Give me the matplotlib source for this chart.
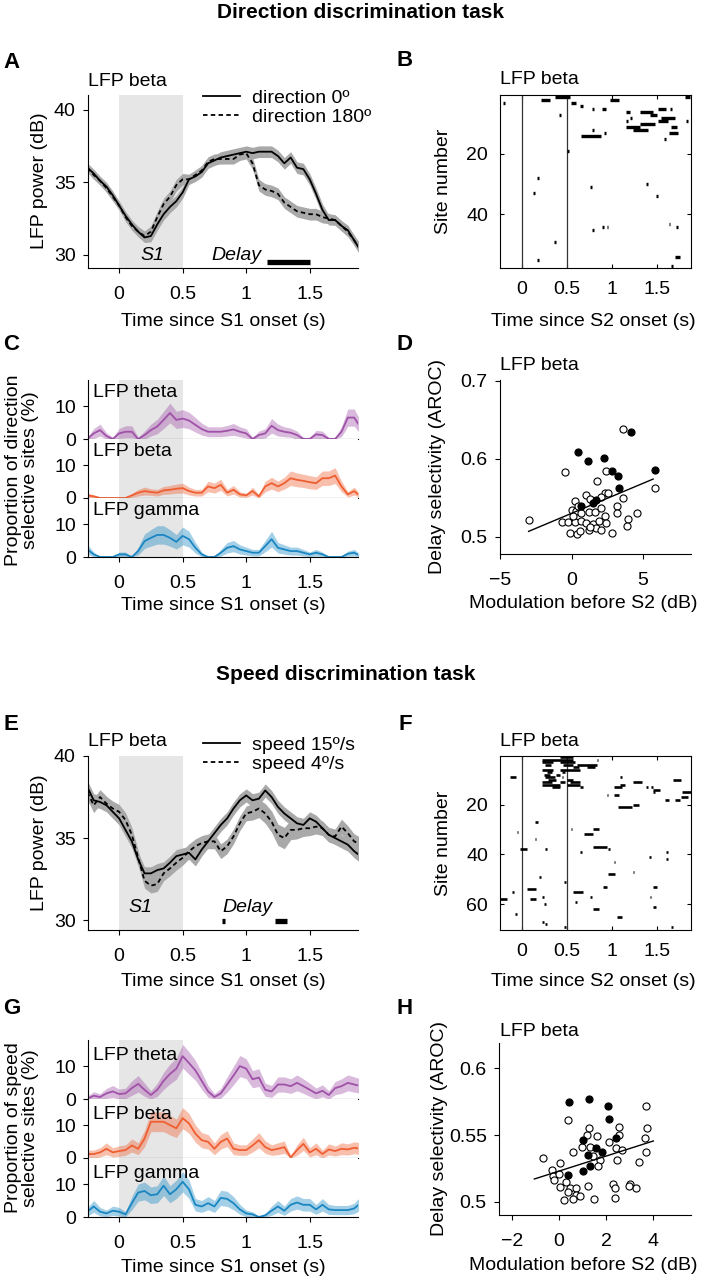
import numpy as np
import matplotlib.pyplot as plt

W, H = 701, 1280
plt.rcParams['font.family'] = ['Liberation Sans', 'DejaVu Sans']
plt.rcParams['font.size'] = 14
plt.rcParams['axes.linewidth'] = 0.8

# time grid (s) of the power / proportion traces
t = np.round(np.arange(-0.25, 1.9001, 0.05), 2)

# ---------------- A: LFP beta power, direction task
dir0_pow = [36.0, 35.6, 35.1, 34.7, 34.1, 33.4, 32.7, 32.1, 31.6, 31.2, 31.3, 32.1, 32.8, 33.3, 33.7,
            34.3, 35.2, 35.4, 35.7, 36.3, 36.5, 36.7, 36.8, 36.9, 37.0, 37.1, 37.0, 37.1, 37.1, 37.1,
            36.8, 36.3, 36.7, 36.0, 35.9, 35.2, 34.2, 33.1, 32.4, 32.4, 32.0, 31.7, 31.0, 30.3]
dir0_sem = [0.3, 0.3, 0.3, 0.3, 0.3, 0.3, 0.3, 0.3, 0.35, 0.35, 0.4, 0.4, 0.4, 0.4, 0.4,
            0.4, 0.35, 0.35, 0.35, 0.35, 0.35, 0.4, 0.4, 0.4, 0.4, 0.4, 0.4, 0.4, 0.4, 0.4,
            0.4, 0.4, 0.4, 0.4, 0.4, 0.4, 0.4, 0.4, 0.35, 0.35, 0.35, 0.35, 0.35, 0.35]
dir180_pow = [36.0, 35.5, 35.1, 34.6, 34.0, 33.4, 32.6, 32.0, 31.6, 31.3, 31.6, 32.6, 33.5, 34.0, 34.8,
              35.2, 35.2, 35.5, 35.8, 36.4, 36.6, 36.6, 36.6, 36.6, 36.9, 37.0, 36.3, 34.8, 34.5, 34.4,
              34.2, 33.6, 33.3, 33.0, 32.9, 32.8, 32.8, 32.6, 32.5, 32.4, 32.0, 31.6, 31.0, 30.4]
dir180_sem = [0.3, 0.3, 0.3, 0.3, 0.3, 0.3, 0.3, 0.3, 0.35, 0.35, 0.4, 0.4, 0.4, 0.4, 0.4,
              0.4, 0.35, 0.35, 0.35, 0.35, 0.35, 0.35, 0.35, 0.35, 0.4, 0.4, 0.4, 0.4, 0.4, 0.4,
              0.4, 0.4, 0.4, 0.4, 0.4, 0.4, 0.4, 0.4, 0.35, 0.35, 0.35, 0.35, 0.35, 0.35]
dir_delay_bars = [(1.16, 1.50)]

# ---------------- B: raster of direction-selective sites (site, start, end)
B_site = [3, 2, 1, 7, 3, 4, 5, 5, 2, 1, 19, 14, 12, 13, 6, 9, 8, 11, 12, 10, 6, 7, 5, 5, 9, 8,
          15, 11, 13, 9, 31, 28, 33, 30, 34, 45, 44, 44, 43, 44, 49, 55, 54, 57]
B_start = [-0.21, 0.21, 0.37, 0.41, 0.55, 0.64, 0.78, 0.89, 0.98, 1.81, 0.50, 0.66, 0.78, 0.91,
           1.16, 1.16, 1.20, 1.16, 1.24, 1.31, 1.31, 1.42, 1.51, 1.65, 1.51, 1.55, 1.58, 1.66,
           1.64, 1.82, 0.76, 0.17, 0.12, 1.38, 1.49, 0.78, 0.89, 0.94, 1.63, 1.71, 0.36, 0.17,
           1.70, 1.66]
B_end = [-0.19, 0.31, 0.53, 0.43, 0.60, 0.68, 0.80, 0.93, 1.08, 1.87, 0.52, 0.88, 0.80, 0.93,
         1.20, 1.18, 1.22, 1.31, 1.40, 1.48, 1.46, 1.50, 1.60, 1.67, 1.62, 1.70, 1.60, 1.72,
         1.74, 1.85, 0.78, 0.19, 0.14, 1.40, 1.51, 0.80, 0.91, 0.96, 1.65, 1.73, 0.38, 0.19,
         1.76, 1.68]

# ---------------- C: proportion of direction selective sites (%)
C_theta = [0, 1.7, 2.7, 0.9, 0, 1.7, 2.2, 2.2, 0, 1.2, 2.7, 3.8, 5.8, 7.9, 5.8,
           6.2, 5.6, 4.3, 3.0, 2.2, 2.2, 2.2, 2.5, 2.9, 2.2, 1.7, 0, 1.2, 1.7, 4.0,
           2.7, 2.2, 1.9, 1.2, 0, 0, 1.4, 1.2, 0, 0, 2.2, 6.5, 6.5, 3.5]
C_theta_err = [0.5, 1.5, 1.8, 1.0, 0.5, 1.5, 1.8, 1.8, 0.5, 1.2, 1.8, 2.2, 2.6, 3.0, 2.6,
               2.7, 2.5, 2.2, 1.8, 1.5, 1.5, 1.5, 1.6, 1.8, 1.5, 1.4, 0.5, 1.2, 1.4, 2.2,
               1.8, 1.5, 1.4, 1.2, 0.5, 0.5, 1.2, 1.2, 0.5, 0.5, 1.5, 2.6, 2.6, 2.0]
C_beta = [0.8, 0.5, 0, 0, 0, 0, 0, 0.8, 1.6, 2.1, 1.8, 1.6, 2.3, 2.5, 2.8,
          3.0, 2.1, 1.6, 1.6, 3.5, 3.0, 4.0, 1.6, 2.5, 1.1, 0.8, 2.1, 0.5, 3.5, 4.5,
          3.5, 4.5, 6.0, 5.5, 5.2, 4.8, 4.5, 6.0, 6.0, 6.8, 3.5, 1.1, 2.1, 0.5]
C_beta_err = [0.6, 0.5, 0, 0, 0, 0, 0, 0.6, 1.0, 1.2, 1.0, 1.0, 1.2, 1.3, 1.4,
              1.5, 1.2, 1.0, 1.0, 1.6, 1.5, 1.7, 1.0, 1.3, 0.8, 0.6, 1.2, 0.5, 1.6, 1.8,
              1.6, 1.8, 2.2, 2.1, 2.0, 2.0, 1.9, 2.2, 2.2, 2.4, 1.6, 0.8, 1.2, 0.5]
C_gamma = [2.3, 0.8, 0, 0, 0, 0.8, 0.8, 0, 1.8, 4.8, 5.8, 6.7, 6.7, 5.8, 4.6,
           6.4, 5.4, 2.8, 0.8, 0, 0, 1.3, 2.8, 3.3, 2.3, 1.8, 1.3, 1.3, 3.3, 5.4,
           2.8, 2.3, 1.8, 1.8, 1.3, 0.8, 1.3, 0.8, 0, 0, 0, 1.0, 1.3, 0.3]
C_gamma_err = [1.5, 0.7, 0, 0, 0, 0.7, 0.7, 0, 1.2, 2.2, 2.5, 2.8, 2.8, 2.5, 2.2,
               2.7, 2.4, 1.6, 0.7, 0, 0, 1.0, 1.6, 1.7, 1.4, 1.2, 1.0, 1.0, 1.7, 2.4,
               1.6, 1.4, 1.2, 1.2, 1.0, 0.7, 1.0, 0.7, 0, 0, 0, 0.8, 1.0, 0.4]

# ---------------- D: delay selectivity vs modulation, direction task
D_sel_x = [0.44, 1.14, 2.26, 2.82, 3.23, 3.30, 4.13, 5.8, 0.63, 1.5, 1.73]
D_sel_y = [0.609, 0.597, 0.601, 0.584, 0.578, 0.562, 0.634, 0.586, 0.540, 0.544, 0.547]
D_ns_x = [-2.98, -0.49, 3.6, 2.42, 1.75, 5.8, 3.59, 3.19, 3.19, 4.6, 3.97, 3.86, 2.82, 0.22,
          1.03, 1.26, 2.31, 2.55, 2.07, 0.0, 0.3, 0.63, 1.21, 1.61, 2.07, 2.31, -0.7, -0.23,
          0.22, 0.68, 1.03, 1.5, 1.91, 2.42, -0.12, 0.35, 0.58, 1.21, 1.73, 2.07, 1.26, 0.12, 0.45]
D_ns_y = [0.522, 0.583, 0.638, 0.585, 0.571, 0.563, 0.550, 0.539, 0.531, 0.531, 0.523, 0.514,
          0.505, 0.546, 0.553, 0.549, 0.556, 0.556, 0.551, 0.535, 0.533, 0.531, 0.532, 0.532,
          0.537, 0.527, 0.519, 0.519, 0.519, 0.520, 0.518, 0.516, 0.520, 0.518, 0.505, 0.503,
          0.508, 0.509, 0.511, 0.509, 0.513, 0.527, 0.539]
D_fit_x = [-3.0, 5.7]
D_fit_y = [0.507, 0.574]

# ---------------- E: LFP beta power, speed task
spd15_pow = [38.1, 37.3, 37.2, 37.0, 36.6, 36.2, 35.5, 34.8, 33.7, 32.85, 32.85, 33.05, 33.15, 33.5, 33.9,
             34.0, 34.1, 33.7, 34.3, 34.8, 35.3, 35.8, 36.2, 36.8, 37.3, 37.6, 37.3, 37.4, 37.9, 37.5,
             36.9, 36.5, 36.2, 35.9, 35.8, 36.2, 36.0, 35.6, 35.2, 35.0, 34.8, 34.6, 34.2, 33.9]
spd15_sem = [0.4, 0.4, 0.4, 0.4, 0.4, 0.4, 0.4, 0.4, 0.4, 0.4, 0.4, 0.4, 0.4, 0.4, 0.4,
             0.4, 0.4, 0.4, 0.4, 0.4, 0.4, 0.4, 0.4, 0.4, 0.4, 0.4, 0.4, 0.4, 0.4, 0.4,
             0.4, 0.4, 0.4, 0.4, 0.4, 0.4, 0.4, 0.4, 0.4, 0.4, 0.4, 0.4, 0.4, 0.4]
spd4_pow = [37.8, 37.0, 37.5, 37.1, 36.8, 36.6, 36.1, 35.2, 33.8, 32.4, 32.1, 32.2, 32.85, 33.15, 33.5,
            33.8, 34.2, 34.5, 34.7, 34.8, 34.8, 34.2, 34.5, 35.1, 35.9, 36.5, 36.6, 36.8, 36.5, 36.0,
            35.2, 35.0, 35.5, 35.5, 35.6, 35.6, 35.7, 35.6, 35.2, 35.1, 35.7, 35.3, 34.8, 34.6]
spd4_sem = [0.45, 0.45, 0.45, 0.45, 0.45, 0.45, 0.45, 0.45, 0.45, 0.45, 0.45, 0.45, 0.45, 0.45, 0.45,
            0.45, 0.45, 0.45, 0.45, 0.45, 0.45, 0.45, 0.45, 0.45, 0.45, 0.45, 0.5, 0.55, 0.6, 0.65,
            0.65, 0.65, 0.6, 0.55, 0.5, 0.45, 0.45, 0.45, 0.45, 0.45, 0.45, 0.45, 0.45, 0.45]
spd_delay_bars = [(0.81, 0.83), (1.23, 1.32)]

# ---------------- F: raster of speed-selective sites
F_site = [1, 2, 2, 3, 3, 4, 4, 4, 5, 5, 6, 6, 7, 7, 8, 8, 9, 9, 9, 10, 10, 11, 11, 11, 12, 12, 13, 13,
          16, 16, 9, 13, 12, 11, 13, 13, 14, 15, 10, 18, 17, 15, 18, 21, 20,
          31, 27, 34, 38, 38, 49, 30, 32, 30, 37, 38, 39, 43, 41, 39, 42, 47, 48, 51, 55, 54, 55,
          58, 58, 57, 60, 59, 57, 62, 53, 53, 57, 61, 64, 65, 67, 68, 69, 69]
F_start = [0.42, 0.22, 0.83, 0.22, 0.42, 0.26, 0.46, 0.61, 0.57, 0.72, 0.22, 0.42, 0.28, 0.44,
           0.24, 0.38, 0.26, 0.44, -0.13, 0.29, 0.50, 0.22, 0.42, 0.53, 0.22, 0.50, 0.33, 0.64,
           0.94, 1.02, 1.09, 1.02, 1.09, 1.24, 1.38, 1.44, 1.46, 1.46, 1.68, 1.70, 1.77, 1.78,
           1.59, 1.07, 1.24,
           -0.06, 0.14, 0.14, 0.26, -0.02, 0.19, 0.54, 0.69, 0.79, 0.79, 0.96, 0.65, 1.02, 1.41,
           1.60, 1.60, 1.23, 0.96, 0.47, 0.57, 0.05, -0.11, -0.24, 0.09, 0.22, 0.25, 0.59, 0.76,
           0.79, 0.90, 1.46, 1.42, 1.46, -0.08, 1.06, 0.22, 0.26, 0.47, 1.66]
F_end = [0.57, 0.57, 0.85, 0.35, 0.59, 0.32, 0.57, 0.83, 0.63, 0.81, 0.35, 0.64, 0.33, 0.48,
         0.31, 0.42, 0.37, 0.46, -0.07, 0.38, 0.57, 0.33, 0.48, 0.64, 0.42, 0.64, 0.42, 0.68,
         0.96, 1.08, 1.11, 1.11, 1.15, 1.33, 1.40, 1.46, 1.53, 1.48, 1.77, 1.76, 1.85, 1.88,
         1.64, 1.22, 1.30,
         -0.04, 0.18, 0.16, 0.28, 0.06, 0.21, 0.56, 0.79, 0.86, 0.94, 0.98, 0.67, 1.04, 1.43,
         1.62, 1.62, 1.25, 1.03, 0.49, 0.68, 0.16, -0.09, -0.17, 0.16, 0.24, 0.27, 0.61, 0.78,
         0.86, 0.94, 1.50, 1.44, 1.49, -0.06, 1.11, 0.24, 0.28, 0.49, 1.68]

# ---------------- G: proportion of speed selective sites (%)
G_theta = [0.1, 1.0, 0.6, 1.7, 2.3, 1.5, 1.7, 3.3, 4.6, 2.8, 1.2, 2.8, 5.5, 7.6, 9.2,
           13.0, 10.9, 8.7, 5.5, 2.3, 0.6, 1.7, 4.4, 7.1, 10.0, 9.2, 6.0, 6.5, 2.8, 2.3,
           4.4, 4.4, 3.9, 4.9, 3.9, 2.8, 1.7, 2.5, 1.2, 3.3, 3.9, 4.9, 4.4, 3.9]
G_theta_err = [0.8, 1.2, 1.0, 1.5, 1.8, 1.5, 1.6, 2.2, 2.5, 2.0, 1.3, 2.0, 2.6, 3.0, 3.2,
               3.6, 3.4, 3.0, 2.6, 1.8, 1.0, 1.5, 2.3, 2.8, 3.2, 3.0, 2.6, 2.7, 2.0, 1.8,
               2.3, 2.3, 2.2, 2.4, 2.2, 2.0, 1.6, 1.8, 1.3, 2.0, 2.2, 2.4, 2.3, 2.2]
G_beta = [1.2, 1.2, 1.7, 2.8, 1.7, 2.1, 2.4, 3.8, 2.8, 5.9, 11.0, 11.0, 11.0, 10.0, 9.0,
          12.1, 10.5, 7.4, 5.4, 4.9, 2.8, 4.9, 5.9, 2.8, 2.4, 2.4, 3.8, 5.4, 3.3, 2.4,
          2.8, 3.3, 0.2, 2.4, 4.3, 1.7, 2.8, 1.2, 2.6, 2.1, 2.8, 2.6, 3.1, 2.8]
G_beta_err = [1.2, 1.2, 1.4, 1.8, 1.4, 1.6, 1.6, 2.0, 1.8, 2.5, 3.0, 3.0, 3.0, 3.0, 2.8,
              3.2, 3.0, 2.6, 2.3, 2.2, 1.8, 2.2, 2.4, 1.8, 1.6, 1.6, 2.0, 2.3, 1.9, 1.6,
              1.8, 1.9, 0.5, 1.6, 2.0, 1.4, 1.8, 1.2, 1.7, 1.5, 1.8, 1.7, 1.8, 1.8]
G_gamma = [1.6, 3.2, 1.6, 1.1, 1.9, 1.6, 0.8, 4.2, 7.4, 7.9, 6.6, 6.9, 9.5, 6.9, 8.4,
           10.7, 8.4, 3.7, 3.2, 4.2, 3.2, 5.8, 5.5, 4.2, 2.3, 1.1, 0.8, 0.0, 0.5, 1.9,
           3.2, 1.9, 3.7, 4.4, 3.7, 3.7, 2.3, 3.7, 2.3, 2.1, 2.1, 2.1, 2.6, 4.2]
G_gamma_err = [1.3, 1.8, 1.3, 1.0, 1.4, 1.3, 0.8, 2.0, 2.6, 2.7, 2.5, 2.6, 3.0, 2.6, 2.8,
               3.1, 2.8, 1.9, 1.8, 2.0, 1.8, 2.3, 2.3, 2.0, 1.5, 1.0, 0.8, 0.3, 0.6, 1.4,
               1.8, 1.4, 1.9, 2.0, 1.9, 1.9, 1.5, 1.9, 1.5, 1.4, 1.4, 1.4, 1.6, 2.0]

# ---------------- H: delay selectivity vs modulation, speed task
H_sel_x = [0.44, 1.26, 2.07, 2.1, 1.0, 2.41, 1.22, 1.57, 1.81, 0.4, 1.0, 1.31]
H_sel_y = [0.575, 0.577, 0.572, 0.562, 0.546, 0.548, 0.535, 0.540, 0.537, 0.520, 0.523, 0.527]
H_ns_x = [0.4, 3.69, 3.74, 3.65, 3.69, 3.4, 2.55, 2.55, 2.1, 2.4, 2.66, 2.47, 1.26, 1.19, 1.61,
          0.97, 0.61, 1.31, 1.46, 1.74, 1.66, -0.67, 0.04, -0.31, -0.24, 0.0, -0.23, 0.04, 0.3,
          0.47, 0.4, 0.73, 0.73, 0.9, 0.2, 0.6, 1.22, 1.47, 2.27, 2.38, 2.38, 3.0, 3.26, 2.98]
H_ns_y = [0.561, 0.572, 0.555, 0.548, 0.537, 0.530, 0.556, 0.550, 0.545, 0.540, 0.539, 0.531,
          0.555, 0.550, 0.549, 0.541, 0.537, 0.541, 0.534, 0.531, 0.527, 0.533, 0.529, 0.524,
          0.519, 0.521, 0.516, 0.511, 0.515, 0.510, 0.507, 0.510, 0.505, 0.504, 0.501, 0.502,
          0.512, 0.502, 0.513, 0.510, 0.503, 0.513, 0.510, 0.512]
H_fit_x = [-1.05, 4.0]
H_fit_y = [0.517, 0.5455]

band_colors = {'theta': '#a052a8', 'beta': '#ef5f32', 'gamma': '#1a87c3'}
S1_GRAY = '#e6e6e6'
SEM_GRAY = '#a9a9a9'
TIME_TICKS = [0, 0.5, 1, 1.5]
TIME_LABELS = ['0', '0.5', '1', '1.5']
XLIM = (-0.245, 1.88)

fig = plt.figure(figsize=(W / 100, H / 100), dpi=100)


def box(l, top, r, b):
    return [l / W, 1 - b / H, (r - l) / W, (b - top) / H]


def ftext(x, y, s, **kw):
    fig.text(x / W, 1 - y / H, s, **kw)


def place_labels(ax, xl, xpos, yl, ypos):
    ax.set_xlabel(xl, va='center')
    ax.xaxis.set_label_coords(xpos[0] / W, 1 - xpos[1] / H, transform=fig.transFigure)
    if yl:
        ax.set_ylabel(yl, va='center')
        ax.yaxis.set_label_coords(ypos[0] / W, 1 - ypos[1] / H, transform=fig.transFigure)


def style(ax):
    ax.spines['top'].set_visible(False)
    ax.spines['right'].set_visible(False)
    ax.tick_params(direction='out', length=3.3, width=0.8, labelsize=14)
    ax.tick_params(axis='x', pad=9.5)
    ax.tick_params(axis='y', pad=5.5)


def power_panel(ax, m1, s1, m2, s2, bars, ylim, names, txt_y, s1_x, delay_x, bar_y):
    ax.axvspan(0, 0.5, color=S1_GRAY, lw=0, zorder=0)
    for m, s in ((m1, s1), (m2, s2)):
        m, s = np.array(m), np.array(s)
        ax.fill_between(t, m - s, m + s, color=SEM_GRAY, lw=0, zorder=1)
    ax.plot(t, m1, color='k', lw=1.3, label=names[0], zorder=3)
    ax.plot(t, m2, color='k', lw=1.3, ls=(0, (2.5, 1.8)), label=names[1], zorder=3)
    for a, b in bars:
        ax.plot([a, b], [bar_y, bar_y], color='k', lw=3.8, solid_capstyle='butt')
    ax.text(s1_x, txt_y, 'S1', style='italic', ha='center', va='center')
    ax.text(delay_x, txt_y, 'Delay', style='italic', ha='center', va='center')
    ax.set_xlim(*XLIM)
    ax.set_ylim(*ylim)
    ax.set_xticks(TIME_TICKS, TIME_LABELS)
    ax.set_yticks([30, 35, 40])
    style(ax)


def raster_panel(ax, site, start, end, ylim, yticks, lw):
    ax.axvline(0, color='#333333', lw=0.9)
    ax.axvline(0.5, color='#333333', lw=0.9)
    ax.hlines(site, start, end, colors='k', lw=lw)
    ax.set_xlim(*XLIM)
    ax.set_ylim(*ylim)
    ax.set_xticks(TIME_TICKS, TIME_LABELS)
    ax.set_yticks(yticks)
    ax.tick_params(direction='in', length=3, width=0.8, top=True, right=True, labelsize=14)
    ax.tick_params(axis='x', pad=9.5)
    ax.tick_params(axis='y', pad=8.5)


def proportion_panel(tops, series, txt_frac):
    axes = []
    names = ['theta', 'beta', 'gamma']
    for i, (top, (m, e)) in enumerate(zip(tops, series)):
        ax = fig.add_axes(box(88, top, 358, top + 59))
        m, e = np.array(m), np.array(e)
        c = band_colors[names[i]]
        ax.axvspan(0, 0.5, color=S1_GRAY, lw=0, zorder=0)
        ax.fill_between(t, np.clip(m - e, 0, None), m + e, color=c, alpha=0.4, lw=0, zorder=1)
        ax.plot(t, m, color=c, lw=1.3, zorder=2)
        ax.text(0.02, txt_frac, 'LFP ' + names[i], transform=ax.transAxes, va='center', zorder=4)
        ax.set_xlim(*XLIM)
        ax.set_ylim(0, 17.9)
        ax.set_yticks([0, 10])
        style(ax)
        ax.spines['bottom'].set_zorder(5)
        if i < 2:
            ax.tick_params(axis='x', bottom=False, labelbottom=False)
        else:
            ax.set_xticks(TIME_TICKS, TIME_LABELS)
        axes.append(ax)
    return axes


def scatter_panel(ax, sx, sy, nx, ny, fx, fy, xlim, ylim, xt, yt, ytl):
    ax.scatter(nx, ny, s=26, facecolors='white', edgecolors='k', linewidths=0.8, zorder=2)
    ax.scatter(sx, sy, s=26, facecolors='k', edgecolors='k', linewidths=0.8, zorder=3)
    ax.plot(fx, fy, color='k', lw=1.0, zorder=4)
    ax.set_xlim(*xlim)
    ax.set_ylim(*ylim)
    ax.set_xticks(xt)
    ax.set_yticks(yt, ytl)
    style(ax)


# ---- headers and panel letters
ftext(217, 12, 'Direction discrimination task', fontweight='bold', fontsize=15, va='center', ha='left')
ftext(216, 674, 'Speed discrimination task', fontweight='bold', fontsize=15, va='center', ha='left')
for letter, (x, y) in zip('ABCDEFGH', [(12, 63), (405, 61), (11, 344), (405, 345),
                                       (11, 724), (405, 724), (12, 1009), (405, 1009)]):
    ftext(x, y, letter, fontweight='bold', fontsize=16, ha='center', va='center')

# ---- A
axA = fig.add_axes(box(88, 95, 358, 268))
power_panel(axA, dir0_pow, dir0_sem, dir180_pow, dir180_sem, dir_delay_bars, (29.1, 41.0),
            ['direction 0º', 'direction 180º'], 29.93, 0.26, 0.92, 29.5)
axA.legend(loc='upper left', bbox_to_anchor=(203 / W, 1 - 89 / H), bbox_transform=fig.transFigure,
           frameon=False, borderpad=0, borderaxespad=0, handlelength=1.9, handletextpad=0.62,
           labelspacing=0.1, fontsize=14)
place_labels(axA, 'Time since S1 onset (s)', (223, 321), 'LFP power (dB)', (39, 181))
ftext(88, 82, 'LFP beta', va='center', ha='left')

# ---- B
axB = fig.add_axes(box(500, 95, 691, 268))
raster_panel(axB, B_site, B_start, B_end, (57.7, 0.5), [20, 40], 2.4)
place_labels(axB, 'Time since S2 onset (s)', (593, 321), 'Site number', (443, 181))
ftext(500, 80, 'LFP beta', va='center', ha='left')

# ---- C
axC = proportion_panel([380, 439, 498], [(C_theta, C_theta_err), (C_beta, C_beta_err),
                                         (C_gamma, C_gamma_err)], 0.78)
place_labels(axC[2], 'Time since S1 onset (s)', (223, 606), None, None)
ftext(22, 470, 'Proportion of direction\nselective sites (%)', rotation=90, ha='center',
      va='center', multialignment='center', linespacing=1.0)

# ---- D
axD = fig.add_axes(box(500, 380, 691, 554))
scatter_panel(axD, D_sel_x, D_sel_y, D_ns_x, D_ns_y, D_fit_x, D_fit_y, (-5, 8.35), (0.478, 0.701),
              [-5, 0, 5], [0.5, 0.6, 0.7], ['0.5', '0.6', '0.7'])
place_labels(axD, 'Modulation before S2 (dB)', (583, 604), 'Delay selectivity (AROC)', (438, 467))
ftext(500, 365, 'LFP beta', va='center', ha='left')

# ---- E
axE = fig.add_axes(box(88, 756, 358, 930))
power_panel(axE, spd15_pow, spd15_sem, spd4_pow, spd4_sem, spd_delay_bars, (29.4, 40.0),
            ['speed 15º/s', 'speed 4º/s'], 30.8, 0.165, 1.01, 29.95)
axE.legend(loc='upper left', bbox_to_anchor=(203 / W, 1 - 736 / H), bbox_transform=fig.transFigure,
           frameon=False, borderpad=0, borderaxespad=0, handlelength=1.9, handletextpad=0.62,
           labelspacing=0.1, fontsize=14)
place_labels(axE, 'Time since S1 onset (s)', (223, 981), 'LFP power (dB)', (39, 843))
ftext(88, 742, 'LFP beta', va='center', ha='left')

# ---- F
axF = fig.add_axes(box(500, 756, 691, 930))
raster_panel(axF, F_site, F_start, F_end, (70.4, 0.5), [20, 40, 60], 1.9)
place_labels(axF, 'Time since S2 onset (s)', (593, 981), 'Site number', (443, 843))
ftext(500, 742, 'LFP beta', va='center', ha='left')

# ---- G
axG = proportion_panel([1040, 1099, 1158], [(G_theta, G_theta_err), (G_beta, G_beta_err),
                                            (G_gamma, G_gamma_err)], 0.73)
place_labels(axG[2], 'Time since S1 onset (s)', (223, 1267), None, None)
ftext(22, 1128, 'Proportion of speed\nselective sites (%)', rotation=90, ha='center',
      va='center', multialignment='center', linespacing=1.0)

# ---- H
axH = fig.add_axes(box(499, 1043, 691, 1215))
scatter_panel(axH, H_sel_x, H_sel_y, H_ns_x, H_ns_y, H_fit_x, H_fit_y, (-2.55, 5.6), (0.49, 0.619),
              [-2, 0, 2, 4], [0.5, 0.55, 0.6], ['0.5', '0.55', '0.6'])
place_labels(axH, 'Modulation before S2 (dB)', (583, 1265), 'Delay selectivity (AROC)', (440, 1129))
ftext(500, 1032, 'LFP beta', va='center', ha='left')

fig.savefig('out.png', dpi=100)
